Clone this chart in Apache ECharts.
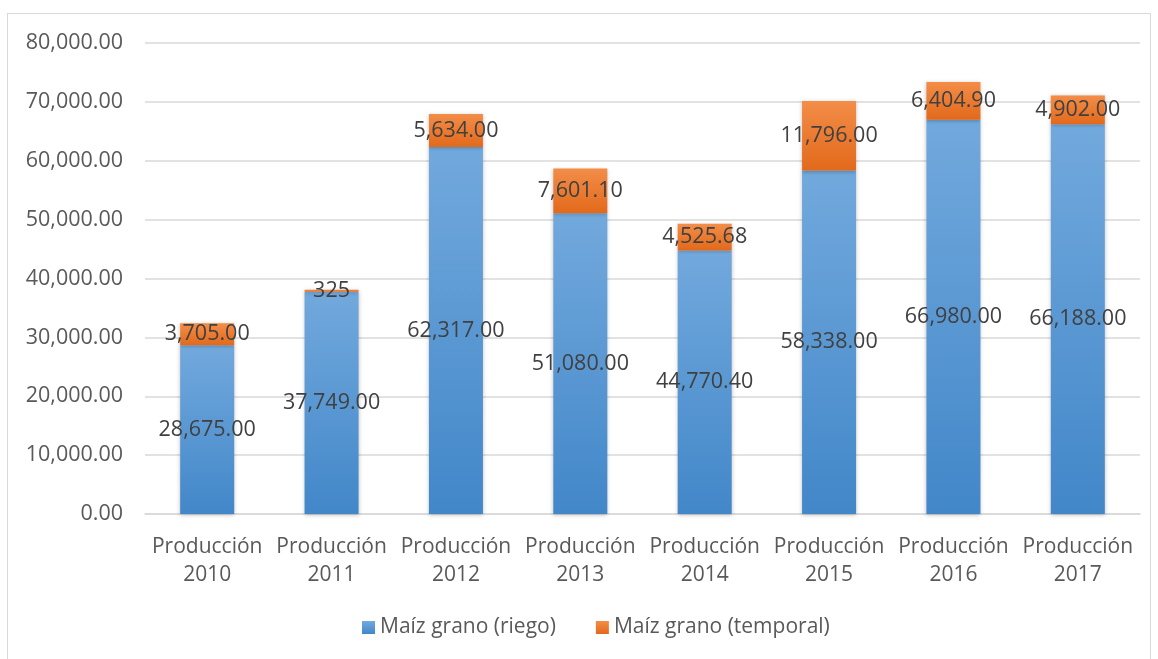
<!DOCTYPE html>
<html><head><meta charset="utf-8">
<script src="https://cdn.jsdelivr.net/npm/echarts@6/dist/echarts.min.js"></script>
<style>
html,body{margin:0;padding:0;background:#fff;}
#frame{position:absolute;left:7px;top:13px;width:1144px;height:660px;border:1px solid #d9d9d9;box-sizing:border-box;}
#c{position:absolute;left:0;top:0;width:1158px;height:659px;}
</style></head>
<body><div id="frame"></div><div id="c"></div>
<script>
const categories = ['Producción\n2010','Producción\n2011','Producción\n2012','Producción\n2013','Producción\n2014','Producción\n2015','Producción\n2016','Producción\n2017'];
const riego = [28675.00, 37749.00, 62317.00, 51080.00, 44770.40, 58338.00, 66980.00, 66188.00];
const temporal = [3705.00, 325, 5634.00, 7601.10, 4525.68, 11796.00, 6404.90, 4902.00];
const temporalDecimals = [2, 0, 2, 2, 2, 2, 2, 2];
const seriesNames = ['Maíz grano (riego)', 'Maíz grano (temporal)'];

function fmt(v, d){ return v.toLocaleString('en-US',{minimumFractionDigits:d, maximumFractionDigits:d}); }
const FONT = 'Open Sans';
const chart = echarts.init(document.getElementById('c'));
const grad = (a,b)=>new echarts.graphic.LinearGradient(0,0,0,1,[{offset:0,color:a},{offset:1,color:b}]);
chart.setOption({
  animation:false,
  textStyle:{fontFamily:FONT},
  grid:{left:145,right:18,top:43,bottom:145},
  legend:{top:612,left:357,itemWidth:13,itemHeight:13,itemGap:40,icon:'rect',
    textStyle:{fontFamily:FONT,fontSize:21,color:'#595959'},data:seriesNames},
  xAxis:{type:'category',data:categories,
    axisLine:{lineStyle:{color:'#d9d9d9',width:1.5}},axisTick:{show:false},
    axisLabel:{fontFamily:FONT,fontSize:21,color:'#595959',lineHeight:28,margin:19,interval:0}},
  yAxis:{type:'value',min:0,max:80000,interval:10000,
    axisLine:{show:false},axisTick:{show:false},
    splitLine:{lineStyle:{color:'#d9d9d9',width:1.5}},
    axisLabel:{fontFamily:FONT,fontSize:21.5,color:'#595959',margin:22,formatter:v=>fmt(v,2)}},
  series:[
    {name:seriesNames[0],type:'bar',stack:'t',barWidth:54,data:riego,
      itemStyle:{color:grad('#72a9dd','#4287c9'),shadowBlur:4,shadowColor:'rgba(0,0,0,0.25)',shadowOffsetY:1},
      label:{show:true,position:'inside',fontFamily:FONT,fontSize:21.5,color:'#404040',formatter:p=>fmt(p.value,2)}},
    {name:seriesNames[1],type:'bar',stack:'t',barWidth:54,data:temporal,
      itemStyle:{color:grad('#f38d48','#e2691b'),shadowBlur:4,shadowColor:'rgba(0,0,0,0.25)',shadowOffsetY:1},
      label:{show:true,position:'inside',fontFamily:FONT,fontSize:21.5,color:'#404040',formatter:p=>fmt(p.value,temporalDecimals[p.dataIndex])}}
  ]
});
</script></body></html>
